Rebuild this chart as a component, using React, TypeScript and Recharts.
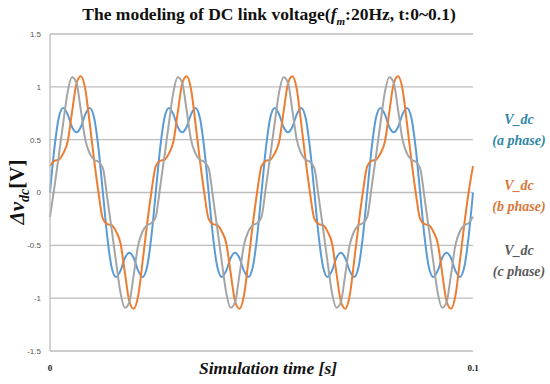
import { LineChart, Line, XAxis, YAxis, CartesianGrid } from "recharts";

// one sample every 1/24 of a ripple period (4 periods in 0.1 s)
const time = Array.from({ length: 97 }, (_, i) => +(i * 0.1 / 96).toFixed(6));

const phaseA = [
  0, 0.42, 0.71, 0.8, 0.74, 0.62, 0.57, 0.62, 0.74, 0.8, 0.71, 0.42, 0, -0.42, -0.71, -0.8, -0.74, -0.62, -0.57, -0.62, -0.74, -0.8, -0.71, -0.42,
  0, 0.42, 0.71, 0.8, 0.74, 0.62, 0.57, 0.62, 0.74, 0.8, 0.71, 0.42, 0, -0.42, -0.71, -0.8, -0.74, -0.62, -0.57, -0.62, -0.74, -0.8, -0.71, -0.42,
  0, 0.42, 0.71, 0.8, 0.74, 0.62, 0.57, 0.62, 0.74, 0.8, 0.71, 0.42, 0, -0.42, -0.71, -0.8, -0.74, -0.62, -0.57, -0.62, -0.74, -0.8, -0.71, -0.42,
  0, 0.42, 0.71, 0.8, 0.74, 0.62, 0.57, 0.62, 0.74, 0.8, 0.71, 0.42, 0, -0.42, -0.71, -0.8, -0.74, -0.62, -0.57, -0.62, -0.74, -0.8, -0.71, -0.42,
  0,
];

const phaseB = [
  0.25, 0.3, 0.31, 0.37, 0.48, 0.76, 1.03, 1.1, 0.98, 0.66, 0.31, 0, -0.25, -0.3, -0.31, -0.37, -0.48, -0.76, -1.03, -1.1, -0.98, -0.66, -0.31, 0,
  0.25, 0.3, 0.31, 0.37, 0.48, 0.76, 1.03, 1.1, 0.98, 0.66, 0.31, 0, -0.25, -0.3, -0.31, -0.37, -0.48, -0.76, -1.03, -1.1, -0.98, -0.66, -0.31, 0,
  0.25, 0.3, 0.31, 0.37, 0.48, 0.76, 1.03, 1.1, 0.98, 0.66, 0.31, 0, -0.25, -0.3, -0.31, -0.37, -0.48, -0.76, -1.03, -1.1, -0.98, -0.66, -0.31, 0,
  0.25, 0.3, 0.31, 0.37, 0.48, 0.76, 1.03, 1.1, 0.98, 0.66, 0.31, 0, -0.25, -0.3, -0.31, -0.37, -0.48, -0.76, -1.03, -1.1, -0.98, -0.66, -0.31, 0,
  0.25,
];

const phaseC = [
  -0.23, 0.05, 0.35, 0.66, 0.95, 1.09, 1.04, 0.78, 0.5, 0.37, 0.31, 0.29, 0.23, -0.05, -0.35, -0.66, -0.95, -1.09, -1.04, -0.78, -0.5, -0.37, -0.31, -0.29,
  -0.23, 0.05, 0.35, 0.66, 0.95, 1.09, 1.04, 0.78, 0.5, 0.37, 0.31, 0.29, 0.23, -0.05, -0.35, -0.66, -0.95, -1.09, -1.04, -0.78, -0.5, -0.37, -0.31, -0.29,
  -0.23, 0.05, 0.35, 0.66, 0.95, 1.09, 1.04, 0.78, 0.5, 0.37, 0.31, 0.29, 0.23, -0.05, -0.35, -0.66, -0.95, -1.09, -1.04, -0.78, -0.5, -0.37, -0.31, -0.29,
  -0.23, 0.05, 0.35, 0.66, 0.95, 1.09, 1.04, 0.78, 0.5, 0.37, 0.31, 0.29, 0.23, -0.05, -0.35, -0.66, -0.95, -1.09, -1.04, -0.78, -0.5, -0.37, -0.31, -0.29,
  -0.23,
];

const yTicks = [-1.5, -1, -0.5, 0, 0.5, 1, 1.5];
const xTicks = [0, 0.1];

const data = time.map((t, i) => ({ t, a: phaseA[i], b: phaseB[i], c: phaseC[i] }));

const serif = "'Liberation Serif', 'DejaVu Serif', serif";

const legend = [
  { name: "(a phase)", color: "#2f86a6", top: 130 },
  { name: "(b phase)", color: "#d9773a", top: 196 },
  { name: "(c phase)", color: "#5a5a5a", top: 261 },
];

export default function App() {
  return (
    <div style={{ position: "absolute", left: 0, top: 0, width: 550, height: 384, background: "#fff", fontFamily: serif }}>
      <LineChart width={550} height={384} data={data} margin={{ top: 34, right: 77, bottom: 3, left: 0 }}>
        <CartesianGrid vertical={false} stroke="#bdbdbd" strokeWidth={1.3} />
        <XAxis
          dataKey="t"
          type="number"
          domain={[0, 0.1]}
          ticks={xTicks}
          height={30}
          axisLine={false}
          tickLine={false}
          tickMargin={8}
          tick={{ fontSize: 9, fill: "#222", fontWeight: "bold", fontFamily: serif }}
        />
        <YAxis
          domain={[-1.5, 1.5]}
          ticks={yTicks}
          width={50}
          tickLine={false}
          tickMargin={3}
          axisLine={{ stroke: "#bdbdbd", strokeWidth: 1.3 }}
          tick={{ fontSize: 8, fill: "#555", fontFamily: "'Liberation Sans', Arial, sans-serif" }}
        />
        <Line dataKey="a" type="monotone" stroke="#5b9bd5" strokeWidth={2} dot={false} isAnimationActive={false} />
        <Line dataKey="b" type="monotone" stroke="#ed7d31" strokeWidth={2} dot={false} isAnimationActive={false} />
        <Line dataKey="c" type="monotone" stroke="#a5a5a5" strokeWidth={2} dot={false} isAnimationActive={false} />
      </LineChart>

      <div style={{ position: "absolute", left: 269, top: 14, transform: "translate(-50%, -50%)", whiteSpace: "nowrap", fontWeight: "bold", fontSize: 17.5, lineHeight: "20px", color: "#111" }}>
        The modeling of DC link voltage(<i>f</i><sub style={{ fontSize: 11, lineHeight: 0 }}><i>m</i></sub>:20Hz, t:0~0.1)
      </div>

      <div style={{ position: "absolute", left: 17, top: 192, transform: "translate(-50%, -50%) rotate(-90deg)", whiteSpace: "nowrap", fontWeight: "bold", fontSize: 21, lineHeight: "24px", color: "#111" }}>
        <i>Δv</i><sub style={{ fontSize: 14, lineHeight: 0 }}><i>dc</i></sub>[V]
      </div>

      <div style={{ position: "absolute", left: 268, top: 368, transform: "translate(-50%, -50%)", whiteSpace: "nowrap", fontWeight: "bold", fontStyle: "italic", fontSize: 17.5, color: "#111" }}>
        Simulation time [s]
      </div>

      {legend.map((l) => (
        <div key={l.name} style={{ position: "absolute", left: 519, top: l.top, transform: "translate(-50%, -50%)", textAlign: "center", whiteSpace: "nowrap", fontWeight: "bold", fontStyle: "italic", fontSize: 14, lineHeight: "21px", color: l.color }}>
          V_dc
          <br />
          {l.name}
        </div>
      ))}
    </div>
  );
}
